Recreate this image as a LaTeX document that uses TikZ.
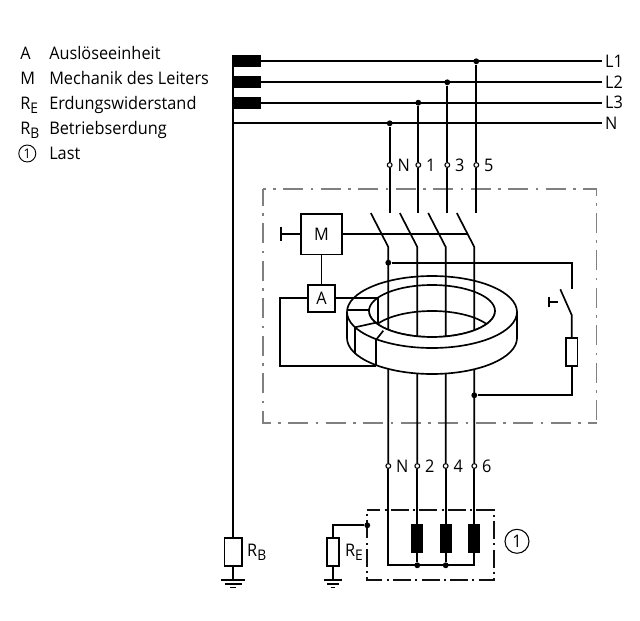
\documentclass[tikz,border=0pt]{standalone}
\usepackage{fontspec}
\setmainfont{Open Sans}[FakeStretch=0.94]
\usetikzlibrary{positioning}
\definecolor{boxgray}{HTML}{808080}
\definecolor{loadgray}{HTML}{111111}
\newcommand*{\lsub}[2]{#1\raisebox{-3pt}{\fontsize{11}{12}\selectfont #2}}
\tikzset{
  wire/.style={line width=1.25pt},
  chain/.style={line width=1pt,dash pattern=on 15pt off 5.6pt on 1.9pt off 5.6pt},
  shortchain/.style={wire,dash pattern=on 13.5pt off 3.15pt on 1.6pt off 3.15pt},
  dot/.style={circle,fill=black,inner sep=0pt,minimum size=4.4pt},
  term/.style={circle,draw,fill=white,line width=0.8pt,inner sep=0pt,minimum size=3.6pt},
  bar/.style={fill=black,inner sep=0pt,minimum width=21pt,minimum height=9pt},
  coil/.style={fill=black,inner sep=0pt,minimum width=9.2pt,minimum height=21.5pt},
  res/.style={draw,wire,fill=white,inner sep=0pt,minimum width=8.6pt,minimum height=21pt},
  unit/.style={draw,wire,fill=white,inner sep=0pt},
  lab/.style={inner sep=0pt},
  leg/.style={lab,anchor=base west},
}
\begin{document}
\begin{tikzpicture}[x=0.75pt,y=-0.75pt,every node/.append style={font=\fontsize{13}{15}\selectfont}]
  \useasboundingbox (0,0) rectangle (640,621);
  % legend
  \foreach \n/\k/\t/\y in {a/A/Auslöseeinheit/59.5, m/M/Mechanik des Leiters/84.5,
      e/{\lsub{R}{E}}/Erdungswiderstand/109.5, b/{\lsub{R}{B}}/Betriebserdung/134.5}
    {
      \node[leg] (key\n) at (20,\y) {\k};
      \node[leg] (txt\n) at (49,\y) {\t};
    }
  \node[draw,circle,line width=0.7pt,inner sep=0pt,minimum size=12.75pt,font=\fontsize{10}{11}\selectfont] (keyl) at (27.3,153.5) {1};
  \node[leg] (txtl) at (49,159.5) {Last};
  % supply
  \foreach \n/\y in {1/61.3, 2/82.3, 3/102.7}
    {
      \node[bar] (bar\n) at (247,\y) {};
      \coordinate (end\n) at (601.5,\y);
      \draw[wire] (bar\n.east) -- (end\n);
      \node[lab,right=2.5pt of end\n] (lbl\n) {L\n};
    }
  \coordinate (top) at (233.3,55);
  \coordinate (busn) at (233.3,123.3);
  \coordinate (endn) at (601.5,123.3);
  \draw[wire] (busn) -- (endn);
  \node[lab,right=2.5pt of endn] (lbln) {N};
  % housing
  \coordinate (hnw) at (263,189);
  \coordinate (hne) at (596.7,189);
  \coordinate (hse) at (596.7,423);
  \coordinate (hsw) at (263,423);
  \draw[chain,boxgray,dash phase=12.75pt] (hnw) -- (hne) -- (hse);
  \draw[chain,boxgray,dash phase=2.25pt] (hnw) -- (hsw) -- (hse);
  % ring, back edges
  \draw[wire] (432,312) circle[x radius=85,y radius=36];
  \draw[wire] (432,311) circle[x radius=63,y radius=26];
  \draw[wire] (377.4,324) arc[start angle=210,end angle=330,x radius=63,y radius=26];
  % poles
  \foreach \n/\u/\v/\xt/\xb/\y in {n/N/N/389.7/388.3/123.3, a/1/2/418.3/417.3/102.7,
      b/3/4/447.3/445.7/82.3, c/5/6/476.3/474.3/61.3}
    {
      \node[dot] (in\n) at (\xt,\y) {};
      \node[term] (up\n) at (\xt,165) {};
      \node[term] (lo\n) at (\xb,466) {};
      \coordinate (fix\n) at (\xt,213);
      \coordinate (tip\n) at (\xb-17.5,213);
      \coordinate (hin\n) at (\xb,247);
      \draw[wire] (in\n) -- (up\n) -- (fix\n);
      \draw[wire] (tip\n) -- (hin\n) -- (lo\n);
      \node[lab,right=3.5pt of up\n] (ut\n) {\u};
      \node[lab,right=3.5pt of lo\n] (lt\n) {\v};
    }
  % ring, front
  \fill[white] (347,312) -- (347,338) arc[start angle=180,end angle=0,x radius=85,y radius=36]
    -- (517,312) -- (495,311) arc[start angle=0,end angle=180,x radius=63,y radius=26] -- cycle;
  \draw[wire] (347,312) arc[start angle=180,end angle=0,x radius=85,y radius=36];
  \draw[wire] (369,311) arc[start angle=180,end angle=0,x radius=63,y radius=26];
  \draw[wire] (347,312) -- (347,338) arc[start angle=180,end angle=0,x radius=85,y radius=36] -- (517,312);
  \draw[wire] (347.3,310) -- (369.3,310);
  \draw[wire] (355,327.3) -- (376.7,322.5);
  \draw[wire] (376.7,339) -- (383.3,330.7);
  \draw[wire] (355.3,327.3) -- (355.3,353.5);
  \draw[wire] (376.3,339) -- (376.3,365.7);
  % release
  \node[unit,minimum width=30.7pt,minimum height=30.5pt] (mech) at (321.5,234.3) {M};
  \node[unit,minimum width=20.2pt,minimum height=20.2pt] (rel) at (321.5,298.3) {A};
  \coordinate (stop) at (280.7,234.3);
  \coordinate (linkend) at (466.7,234.3);
  \coordinate (sensein) at (377.7,298.3);
  \coordinate (sensedn) at (377.7,324.5);
  \coordinate (loopl) at (280.3,298.3);
  \coordinate (loopb) at (280.3,365.7);
  \coordinate (loope) at (376.3,365.7);
  \draw[wire] (mech.east) -- (linkend);
  \draw[wire] (mech.west) -- (stop);
  \draw[wire] ([yshift=-5.2pt]stop) -- ([yshift=5.2pt]stop);
  \draw[wire] (mech.south) -- (rel.north);
  \draw[wire] (rel.east) -- (sensein) -- (sensedn);
  \draw[wire] (rel.west) -- (loopl) -- (loopb) -- (loope);
  % test circuit
  \node[dot] (tsta) at (388.3,262.7) {};
  \node[dot] (tstb) at (474.3,395.3) {};
  \coordinate (tr) at (571.7,262.7);
  \coordinate (tc) at (571.7,289.3);
  \coordinate (bl) at (560.3,289.3);
  \coordinate (bh) at (571.7,315);
  \coordinate (br) at (571.7,395.3);
  \coordinate (pb) at (549.3,302.3);
  \coordinate (ps) at (558,302.3);
  \node[res] (rtest) at (571.7,351.7) {};
  \draw[wire] (tsta) -- (tr) -- (tc);
  \draw[wire] (bl) -- (bh) -- (rtest.north);
  \draw[wire] (rtest.south) -- (br) -- (tstb);
  \draw[wire] (pb) -- (ps);
  \draw[wire] ([yshift=-3.7pt]pb) -- ([yshift=3.7pt]pb);
  % load
  \coordinate (lnw) at (367.3,510.3);
  \coordinate (lne) at (494.3,510.3);
  \coordinate (lse) at (494.3,580.3);
  \coordinate (lsw) at (367.3,580.3);
  \draw[shortchain,loadgray,dash phase=3.75pt] (lnw) -- (lne) -- (lse) -- (lsw) -- cycle;
  \node[dot] (ldn) at (367.3,525.3) {};
  \node[dot] (ja) at (417.3,565.3) {};
  \node[dot] (jb) at (445.7,565.3) {};
  \coordinate (jn) at (388.3,565.3);
  \coordinate (jc) at (474.3,565.3);
  \node[coil] (cla) at (417.3,538.3) {};
  \node[coil] (clb) at (445.7,538.3) {};
  \node[coil] (clc) at (474.3,538.3) {};
  \draw[wire] (lon) -- (jn) -- (jc) -- (clc.south);
  \foreach \n/\j in {a/ja, b/jb, c/jc}
    {
      \draw[wire] (lo\n) -- (cl\n.north);
      \draw[wire] (cl\n.south) -- (\j);
    }
  \node[draw,circle,line width=0.8pt,inner sep=0pt,minimum size=18pt] (lastc) at (517,541.3) {1};
  % earth
  \node[res,minimum width=13.2pt] (rb) at (233.3,552.3) {};
  \node[res] (re) at (333,552.3) {};
  \node[lab,right=3pt of rb] (rbt) {\lsub{R}{B}};
  \node[lab,right=4pt of re] (ret) {\lsub{R}{E}};
  \coordinate (rec) at (333,525.3);
  \coordinate (gb) at (233.3,580.3);
  \coordinate (ge) at (333,580.3);
  \draw[wire] (top) -- (rb.north);
  \draw[wire] (ldn) -- (rec) -- (re.north);
  \draw[wire] (rb.south) -- (gb);
  \draw[wire] (re.south) -- (ge);
  \draw[wire] ([xshift=-9pt]gb) -- ([xshift=9pt]gb);
  \draw[wire] ([xshift=-6.4pt,yshift=-2.6pt]gb) -- ([xshift=6.4pt,yshift=-2.6pt]gb);
  \draw[wire] ([xshift=-2.2pt,yshift=-5.4pt]gb) -- ([xshift=2.2pt,yshift=-5.4pt]gb);
  \draw[wire] ([xshift=-6.8pt]ge) -- ([xshift=6.8pt]ge);
  \draw[wire] ([xshift=-4.4pt,yshift=-2.6pt]ge) -- ([xshift=4.4pt,yshift=-2.6pt]ge);
  \draw[wire] ([xshift=-1.8pt,yshift=-5.4pt]ge) -- ([xshift=1.8pt,yshift=-5.4pt]ge);
\end{tikzpicture}
\end{document}
